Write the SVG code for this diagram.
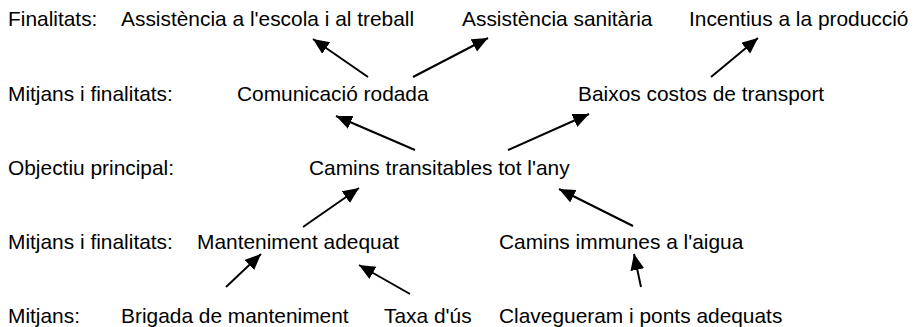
<svg xmlns="http://www.w3.org/2000/svg" width="914" height="327" viewBox="0 0 914 327">
<style>
text{font-family:"Liberation Sans",Arial,sans-serif;font-size:20.9px;fill:#000}
.c line{stroke:#000;stroke-width:2;marker-end:url(#ah)}
</style>
<defs>
<marker id="ah" markerUnits="userSpaceOnUse" markerWidth="20" markerHeight="16" refX="16" refY="7" orient="auto"><path d="M0,0 L16,7 L0,14 Z" fill="#000"/></marker>
</defs>
<rect width="914" height="327" fill="#fff"/>
<g id="labels">
<text x="8" y="26">Finalitats:</text>
<text x="8" y="101">Mitjans i finalitats:</text>
<text x="8" y="175">Objectiu principal:</text>
<text x="8" y="249">Mitjans i finalitats:</text>
<text x="8" y="323">Mitjans:</text>
</g>
<g id="n-escola"><text x="121" y="26">Assistència a l'escola i al treball</text></g>
<g id="n-sanitaria"><text x="462" y="26">Assistència sanitària</text></g>
<g id="n-produccio"><text x="689" y="26">Incentius a la producció</text></g>
<g id="n-comunicacio"><text x="237" y="101">Comunicació rodada</text></g>
<g id="n-baixos"><text x="578" y="101">Baixos costos de transport</text></g>
<g id="n-camins"><text x="309" y="175">Camins transitables tot l'any</text></g>
<g id="n-manteniment"><text x="197" y="249">Manteniment adequat</text></g>
<g id="n-immunes"><text x="499" y="249">Camins immunes a l'aigua</text></g>
<g id="n-brigada"><text x="121" y="323">Brigada de manteniment</text></g>
<g id="n-taxa"><text x="384" y="323">Taxa d'ús</text></g>
<g id="n-clavegueram"><text x="499" y="323">Clavegueram i ponts adequats</text></g>
<g id="connectors" class="c">
<line x1="368" y1="77" x2="313" y2="39"/>
<line x1="413" y1="77" x2="488" y2="38"/>
<line x1="711" y1="77" x2="758" y2="38"/>
<line x1="415" y1="150" x2="336" y2="116"/>
<line x1="508" y1="150" x2="589" y2="114"/>
<line x1="303" y1="227" x2="359" y2="188"/>
<line x1="633" y1="226" x2="559" y2="189"/>
<line x1="226" y1="287" x2="261" y2="254"/>
<line x1="410" y1="294" x2="359" y2="265"/>
<line x1="641" y1="287" x2="634" y2="254"/>
</g>
</svg>
